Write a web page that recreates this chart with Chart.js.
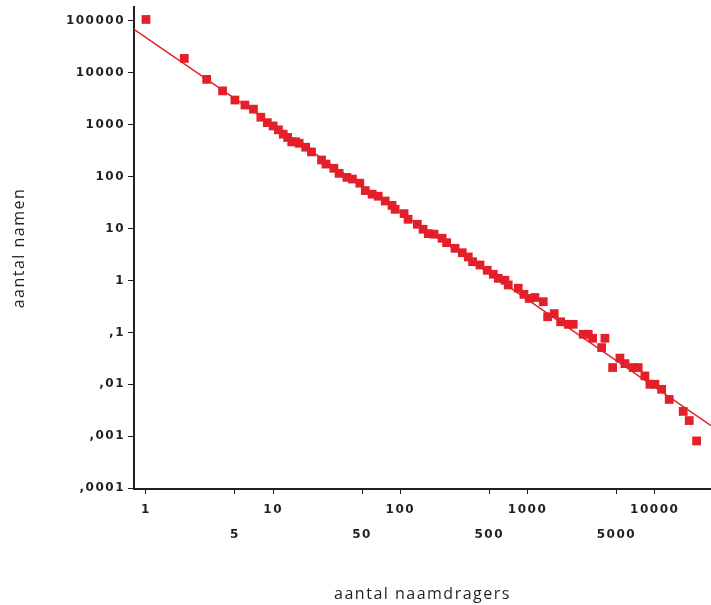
<!DOCTYPE html>
<html>
<head>
<meta charset="utf-8">
<script src="https://cdn.jsdelivr.net/npm/chart.js@4.4.0/dist/chart.umd.min.js"></script>
<style>
  html, body { margin: 0; padding: 0; background: #fff; }
  #wrap { width: 711px; height: 605px; }
</style>
</head>
<body>
<div id="wrap"><canvas id="chart"></canvas></div>
<script>
// aantal naamdragers (x) vs aantal namen (y)
const dragers = [1, 2, 3, 4, 5, 6, 7, 8, 9, 10, 11, 12, 13, 14, 15, 16, 18, 20, 24, 26,
  30, 33, 38, 42, 48, 53, 60, 67, 76, 86, 91, 107, 115, 136, 151, 166, 184, 213, 231, 269,
  307, 342, 370, 423, 482, 538, 589, 664, 705, 845, 937, 1031, 1143, 1329, 1439, 1622, 1821, 2090, 2287, 2741,
  3000, 3249, 3826, 4060, 4668, 5327, 5834, 6779, 7418, 8370, 9170, 10040, 11330, 13000, 16750, 18670, 21340];
const namen = [107000, 19000, 7500, 4500, 3000, 2400, 2000, 1400, 1100, 950, 800, 660, 570, 470, 470, 440, 370, 300, 210, 175,
  145, 116, 97, 90, 75, 54, 46, 42, 34, 28, 23.5, 19.4, 15.1, 12.1, 9.7, 8.0, 7.8, 6.5, 5.35, 4.17,
  3.43, 2.84, 2.30, 1.99, 1.57, 1.32, 1.10, 1.01, 0.82, 0.71, 0.54, 0.45, 0.47, 0.39, 0.20, 0.23, 0.16, 0.143, 0.143, 0.092,
  0.092, 0.077, 0.051, 0.077, 0.021, 0.032, 0.025, 0.021, 0.021, 0.0145, 0.0100, 0.0100, 0.0080, 0.0051, 0.0030, 0.0020, 0.00081];

// fitted line, end points read at the axis edges
const fitX = [0.805, 27700];
const fitY = [69000, 0.0016];

const xTicks = [1, 5, 10, 50, 100, 500, 1000, 5000, 10000];
const yTicks = [0.0001, 0.001, 0.01, 0.1, 1, 10, 100, 1000, 10000, 100000];
const yTickLabels = [',0001', ',001', ',01', ',1', '1', '10', '100', '1000', '10000', '100000'];

const red = '#e3202a';
const ink = '#231f20';

// wide letter spacing like the original typesetting
const spacing = {
    id: 'spacing',
    beforeDraw(chart) { chart.ctx.letterSpacing = '1.5px'; }
};

const tickFont = { family: 'DejaVu Sans', size: 12, weight: 'bold' };

new Chart(document.getElementById('chart'), {
    type: 'scatter',
    data: {
        datasets: [
            {
                data: dragers.map((x, i) => ({ x: x, y: namen[i] })),
                backgroundColor: red,
                borderWidth: 0,
                pointStyle: 'rect',
                pointRadius: 6.2
            },
            {
                type: 'line',
                data: fitX.map((x, i) => ({ x: x, y: fitY[i] })),
                borderColor: red,
                borderWidth: 1.5,
                pointRadius: 0,
                fill: false
            }
        ]
    },
    options: {
        responsive: true,
        maintainAspectRatio: false,
        animation: false,
        layout: { autoPadding: false, padding: { top: 7, right: 0, left: 0, bottom: 0 } },
        plugins: { legend: { display: false }, tooltip: { enabled: false } },
        scales: {
            x: {
                type: 'logarithmic',
                min: 0.805,
                max: 27700,
                afterBuildTicks: s => { s.ticks = xTicks.map(v => ({ value: v })); },
                afterFit: s => { s.height = 116; s.paddingRight = 0; s.paddingLeft = 0; },
                ticks: {
                    color: ink,
                    font: Object.assign({ lineHeight: 2.1 }, tickFont),
                    padding: 3,
                    maxRotation: 0,
                    autoSkip: false,
                    callback: v => {
                        const decade = Math.abs(Math.log10(v) - Math.round(Math.log10(v))) < 1e-6;
                        return decade ? [String(v), ''] : ['', String(v)];
                    }
                },
                grid: { drawOnChartArea: false, drawTicks: true, tickLength: 5, color: ink, tickWidth: 1 },
                border: { display: true, color: ink, width: 2 },
                title: {
                    display: true,
                    text: 'aantal naamdragers',
                    color: ink,
                    font: { family: 'Open Sans', size: 16 },
                    padding: { top: 0, bottom: 1 }
                }
            },
            y: {
                type: 'logarithmic',
                min: 0.000096,
                max: 186000,
                afterBuildTicks: s => { s.ticks = yTicks.map(v => ({ value: v })); },
                afterFit: s => { s.width = 134; s.paddingTop = 0; s.paddingBottom = 0; },
                ticks: {
                    color: ink,
                    font: tickFont,
                    padding: 3,
                    autoSkip: false,
                    callback: v => yTickLabels[yTicks.findIndex(t => Math.abs(t - v) / t < 1e-6)]
                },
                grid: { drawOnChartArea: false, drawTicks: true, tickLength: 6, color: ink, tickWidth: 1 },
                border: { display: true, color: ink, width: 2 },
                title: {
                    display: true,
                    text: 'aantal namen',
                    color: ink,
                    font: { family: 'Open Sans', size: 16 },
                    padding: { top: 10, bottom: 0 }
                }
            }
        }
    },
    plugins: [spacing]
});
</script>
</body>
</html>
